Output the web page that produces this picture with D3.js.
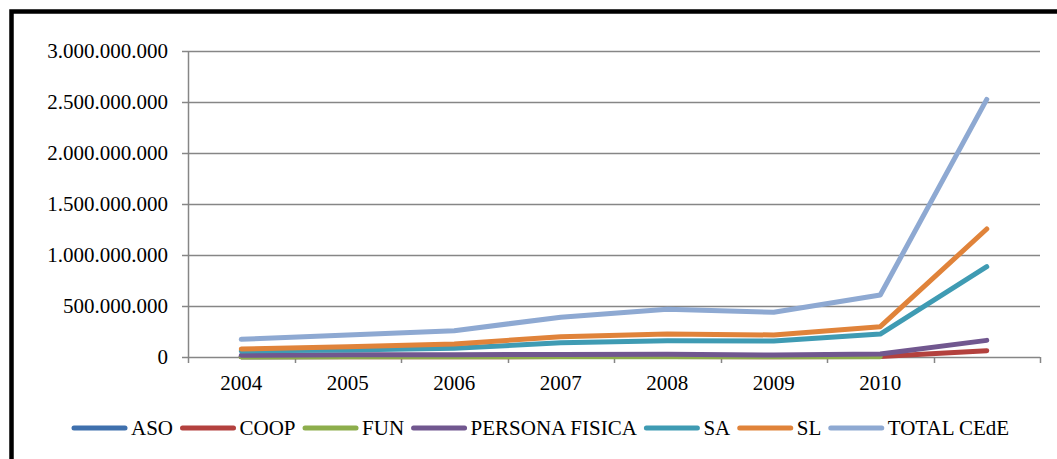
<!DOCTYPE html>
<html>
<head>
<meta charset="utf-8">
<script src="https://cdn.jsdelivr.net/npm/d3@7"></script>
<style>
  html, body { margin: 0; padding: 0; background: #fff; }
  svg { display: block; }
</style>
</head>
<body>
<svg id="chart" width="1057" height="459"></svg>
<script>
// Years on the category axis (the last category has no label)
const categories = ["2004", "2005", "2006", "2007", "2008", "2009", "2010", ""];

// Amounts per legal form, one array per series (null = no value)
const aso      = [3e6, 4e6, 4e6, 5e6, 5e6, 4e6, 6e6, null];
const coop     = [2e6, 3e6, 3e6, 4e6, 4e6, 3e6, 5e6, 62e6];
const fun      = [1e6, 2e6, 2e6, 3e6, 3e6, 2e6, 3e6, null];
const persona  = [17e6, 22e6, 23e6, 25e6, 26e6, 20e6, 29e6, 163e6];
const sa       = [59e6, 69e6, 85e6, 140e6, 160e6, 157e6, 225e6, 885e6];
const sl       = [78e6, 101e6, 127e6, 199e6, 225e6, 216e6, 297e6, 1255e6];
const total    = [173e6, 216e6, 258e6, 390e6, 467e6, 438e6, 608e6, 2526e6];

const seriesNames  = ["ASO", "COOP", "FUN", "PERSONA FISICA", "SA", "SL", "TOTAL CEdE"];
const seriesValues = [aso, coop, fun, persona, sa, sl, total];
const seriesColors = ["#3F70AD", "#B3413E", "#8DAE4C", "#71578F", "#3F9BB3", "#E0833A", "#8EA9D2"];

const yTicks = [0, 5e8, 1e9, 1.5e9, 2e9, 2.5e9, 3e9];

const FONT = '"Liberation Serif"';
const FONT_SIZE = "21px";
const svg = d3.select("#chart");

const x = d3.scaleBand().domain(categories).range([188, 1040]).padding(0);
const y = d3.scaleLinear().domain([0, 3e9]).range([357, 51]);

const locale = d3.formatLocale({ decimal: ",", thousands: ".", grouping: [3], currency: ["", "€"] });
const fmt = locale.format(",.0f");

const gridColor = "#868686";

function styleText(sel) {
  sel.style("font-family", FONT).style("font-size", FONT_SIZE).style("fill", "#000");
}

// Value axis labels
const yAxis = d3.axisLeft(y).tickValues(yTicks).tickFormat(fmt).tickSize(0).tickPadding(20);
const gy = svg.append("g").attr("transform", "translate(188,0)").call(yAxis);
gy.select(".domain").remove();
gy.selectAll("text").call(styleText).attr("dy", "0.32em");

// Horizontal gridlines with ticks extending left of the axis
svg.append("g").selectAll("line").data(yTicks).join("line")
  .attr("x1", 182).attr("x2", 1040)
  .attr("y1", d => Math.round(y(d)) + 0.5).attr("y2", d => Math.round(y(d)) + 0.5)
  .attr("stroke", gridColor).attr("stroke-width", 1.5);

// Vertical axis line
svg.append("line")
  .attr("x1", 188.5).attr("x2", 188.5).attr("y1", y(3e9)).attr("y2", y(0))
  .attr("stroke", gridColor).attr("stroke-width", 1.5);

// Category axis: labels centred in each band, ticks on band edges
const xAxis = d3.axisBottom(x).tickSize(0).tickPadding(18);
const gx = svg.append("g").attr("transform", `translate(0,${y(0)})`).call(xAxis);
gx.select(".domain").remove();
gx.selectAll("text").call(styleText);

const edges = categories.map(c => x(c)).concat([x.range()[1]]);
svg.append("g").selectAll("line").data(edges).join("line")
  .attr("x1", d => Math.round(d) + 0.5).attr("x2", d => Math.round(d) + 0.5)
  .attr("y1", y(0)).attr("y2", y(0) + 6)
  .attr("stroke", gridColor).attr("stroke-width", 1.5);

// Series lines
const line = d3.line()
  .defined(d => d !== null)
  .x((d, i) => x(categories[i]) + x.bandwidth() / 2)
  .y(d => y(d));

svg.append("g").selectAll("path").data(seriesValues).join("path")
  .attr("d", d => line(d))
  .attr("fill", "none")
  .attr("stroke", (d, i) => seriesColors[i])
  .attr("stroke-width", 5)
  .attr("stroke-linecap", "round")
  .attr("stroke-linejoin", "round");

// Legend along the bottom
const legend = svg.append("g");
let lx = 72;
const ly = 428;
seriesNames.forEach((name, i) => {
  legend.append("line")
    .attr("x1", lx + 2).attr("x2", lx + 53).attr("y1", ly).attr("y2", ly)
    .attr("stroke", seriesColors[i]).attr("stroke-width", 5).attr("stroke-linecap", "round");
  const t = legend.append("text")
    .attr("x", lx + 59).attr("y", ly + 7)
    .call(styleText)
    .text(name);
  lx = lx + 59 + t.node().getComputedTextLength() + 7.5;
});

// Outer frame: heavy rule on the top and left edges
svg.append("path")
  .attr("d", "M11.5,459 L11.5,11.5 L1057,11.5")
  .attr("fill", "none").attr("stroke", "#000").attr("stroke-width", 4.5);
</script>
</body>
</html>
